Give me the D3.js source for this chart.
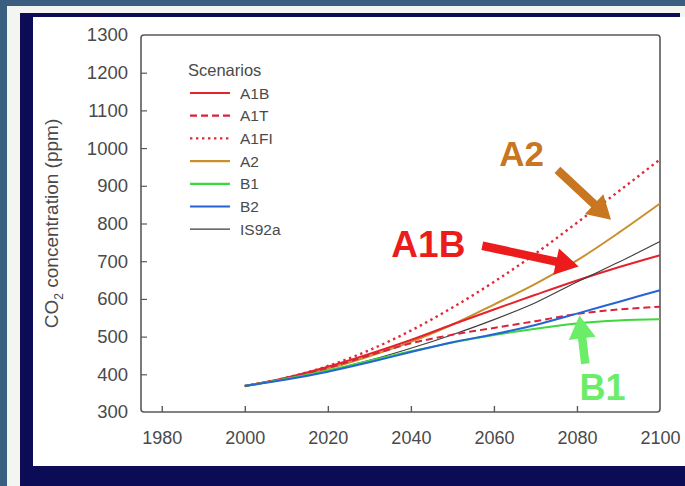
<!DOCTYPE html>
<html>
<head>
<meta charset="utf-8">
<script src="https://cdn.jsdelivr.net/npm/d3@7"></script>
<style>
  html, body { margin: 0; padding: 0; background: #3a5e80; }
  svg { display: block; }
  text { font-family: "Liberation Sans", Arial, Helvetica, sans-serif; }
</style>
</head>
<body>
<svg id="chart" width="685" height="486"></svg>
<script>
// Projected CO2 concentrations (ppm) per SRES scenario, by decade
const years = [2000, 2010, 2020, 2030, 2040, 2050, 2060, 2070, 2080, 2090, 2100];
const A1B   = [369, 391, 420, 454, 491, 532, 572, 611, 649, 684, 716];
const A1T   = [369, 390, 417, 450, 482, 505, 523, 541, 560, 572, 579];
const A1FI  = [369, 391, 422, 464, 516, 577, 645, 720, 802, 885, 970];
const A2    = [369, 389, 415, 448, 486, 532, 585, 640, 702, 775, 853];
const B1    = [369, 388, 410, 436, 461, 484, 504, 521, 535, 543, 546];
const B2    = [369, 386, 407, 432, 459, 485, 506, 531, 561, 592, 623];
const IS92a = [369, 388, 410, 437, 469, 505, 545, 590, 645, 697, 752];

const scenarioNames = ["A1B", "A1T", "A1FI", "A2", "B1", "B2", "IS92a"];
const scenarioValues = [A1B, A1T, A1FI, A2, B1, B2, IS92a];

const xTicks = [1980, 2000, 2020, 2040, 2060, 2080, 2100];
const yTicks = [300, 400, 500, 600, 700, 800, 900, 1000, 1100, 1200, 1300];

// Callouts: label position and arrow tail/tip, in (year, ppm)
const calloutNames  = ["A2", "A1B", "B1"];
const calloutLabel  = [[2061.3, 952], [2035.3, 711], [2080.6, 332]];
const calloutTail   = [[2075.3, 942], [2057.2, 741], [2082.0, 428]];
const calloutTip    = [[2088.2, 810], [2080.4, 686], [2080.6, 556]];
const calloutSizes  = [35, 37, 36];

const styles = {
  A1B:   { color: "#e5232c", width: 2,   dash: null },
  A1T:   { color: "#d8243a", width: 2,   dash: "7,4" },
  A1FI:  { color: "#e02a3a", width: 2.4, dash: "2.4,3.6" },
  A2:    { color: "#c9902e", width: 2,   dash: null },
  B1:    { color: "#3cd83c", width: 2,   dash: null },
  B2:    { color: "#2563d8", width: 2,   dash: null },
  IS92a: { color: "#3c3c3c", width: 1.1, dash: null }
};
const calloutColors = { A2: "#c8761f", A1B: "#ec1c1c", B1: "#6ced6a" };

const svg = d3.select("#chart");

// Slide backdrop and frame
svg.append("rect").attr("x", 0).attr("y", 0).attr("width", 685).attr("height", 486).attr("fill", "#3a5e80");
svg.append("rect").attr("x", 7).attr("y", 6).attr("width", 678).attr("height", 480).attr("fill", "#f3f5f1");
svg.append("rect").attr("x", 20).attr("y", 13).attr("width", 660).attr("height", 4).attr("fill", "#0c0b55");
svg.append("rect").attr("x", 20).attr("y", 13).attr("width", 13).attr("height", 473).attr("fill", "#0c0b55");
svg.append("rect").attr("x", 20).attr("y", 466).attr("width", 665).attr("height", 20).attr("fill", "#0c0b55");
svg.append("rect").attr("x", 33).attr("y", 17).attr("width", 652).attr("height", 449).attr("fill", "#ffffff");

const x = d3.scaleLinear().domain([1975, 2100]).range([141, 660]);
const y = d3.scaleLinear().domain([300, 1300]).range([412, 35]);

const axisColor = "#5a5a5a";
const labelColor = "#4a4a4a";

// Inward tick marks
const xAxis = d3.axisBottom(x).tickValues(xTicks).tickFormat(d3.format("d"))
  .tickSizeInner(-6).tickSizeOuter(0).tickPadding(19);
const gx = svg.append("g").attr("transform", `translate(0,${y(300)})`).call(xAxis);
gx.select(".domain").remove();
gx.selectAll(".tick line").attr("stroke", axisColor).attr("stroke-width", 1.4)
  .filter(d => d === 2100).remove();
gx.selectAll(".tick text").attr("fill", labelColor).attr("font-size", 18)
  .attr("font-family", "Liberation Sans, Arial, sans-serif");

const yAxis = d3.axisLeft(y).tickValues(yTicks).tickFormat(d3.format("d"))
  .tickSizeInner(-6).tickSizeOuter(0).tickPadding(13);
const gy = svg.append("g").attr("transform", `translate(${x(1975)},0)`).call(yAxis);
gy.select(".domain").remove();
gy.selectAll(".tick line").attr("stroke", axisColor).attr("stroke-width", 1.2)
  .filter(d => d === 300 || d === 1300).remove();
gy.selectAll(".tick text").attr("fill", labelColor).attr("font-size", 18.5)
  .attr("font-family", "Liberation Sans, Arial, sans-serif");

// Plot frame
svg.append("rect")
  .attr("x", x(1975)).attr("y", y(1300))
  .attr("width", x(2100) - x(1975)).attr("height", y(300) - y(1300))
  .attr("rx", 3).attr("fill", "none").attr("stroke", axisColor).attr("stroke-width", 1.6);

// Y axis title
const title = svg.append("text")
  .attr("transform", `translate(58,${(y(300) + y(1300)) / 2}) rotate(-90)`)
  .attr("text-anchor", "middle").attr("fill", labelColor).attr("font-size", 19);
title.append("tspan").text("CO");
title.append("tspan").attr("font-size", 12).attr("dy", 5).text("2");
title.append("tspan").attr("dy", -5).text(" concentration (ppm)");

// Scenario curves
const line = d3.line().x(d => x(d[0])).y(d => y(d[1])).curve(d3.curveMonotoneX);
const drawOrder = ["A1FI", "A2", "A1B", "IS92a", "A1T", "B1", "B2"];
drawOrder.forEach(name => {
  const vals = scenarioValues[scenarioNames.indexOf(name)];
  const s = styles[name];
  svg.append("path")
    .datum(years.map((yr, i) => [yr, vals[i]]))
    .attr("d", line)
    .attr("fill", "none")
    .attr("stroke", s.color)
    .attr("stroke-width", s.width)
    .attr("stroke-dasharray", s.dash)
    .attr("stroke-linejoin", "round");
});

// Legend
const legend = svg.append("g").attr("transform", "translate(188,76)");
legend.append("text").attr("x", 0).attr("y", 0).attr("fill", labelColor)
  .attr("font-size", 16.5).text("Scenarios");
scenarioNames.forEach((name, i) => {
  const s = styles[name];
  const ly = 17 + i * 22.7;
  legend.append("line").attr("x1", 2).attr("x2", 42).attr("y1", ly).attr("y2", ly)
    .attr("stroke", s.color).attr("stroke-width", name === "IS92a" ? 1.3 : 2.2)
    .attr("stroke-dasharray", s.dash);
  legend.append("text").attr("x", 52).attr("y", ly + 5.5).attr("fill", labelColor)
    .attr("font-size", 15.5).text(name);
});

// Block arrow outline from tail to tip
function arrowPath(x1, y1, x2, y2, shaftW, headW, headL) {
  const dx = x2 - x1, dy = y2 - y1;
  const len = Math.hypot(dx, dy);
  const ux = dx / len, uy = dy / len;
  const px = -uy, py = ux;
  const bx = x2 - ux * headL, by = y2 - uy * headL;
  const pts = [
    [x1 + px * shaftW / 2, y1 + py * shaftW / 2],
    [bx + px * shaftW / 2, by + py * shaftW / 2],
    [bx + px * headW / 2, by + py * headW / 2],
    [x2, y2],
    [bx - px * headW / 2, by - py * headW / 2],
    [bx - px * shaftW / 2, by - py * shaftW / 2],
    [x1 - px * shaftW / 2, y1 - py * shaftW / 2]
  ];
  return "M" + pts.map(p => p.join(",")).join("L") + "Z";
}

calloutNames.forEach((name, i) => {
  const c = calloutColors[name];
  const [tx, tv] = calloutTail[i];
  const [hx, hv] = calloutTip[i];
  svg.append("path")
    .attr("d", arrowPath(x(tx), y(tv), x(hx), y(hv), 8.5, 27, 23))
    .attr("fill", c);
  svg.append("text")
    .attr("x", x(calloutLabel[i][0])).attr("y", y(calloutLabel[i][1]))
    .attr("fill", c).attr("font-size", calloutSizes[i]).attr("font-weight", "bold")
    .attr("font-family", "DejaVu Sans, Verdana, sans-serif")
    .text(name);
});
</script>
</body>
</html>
